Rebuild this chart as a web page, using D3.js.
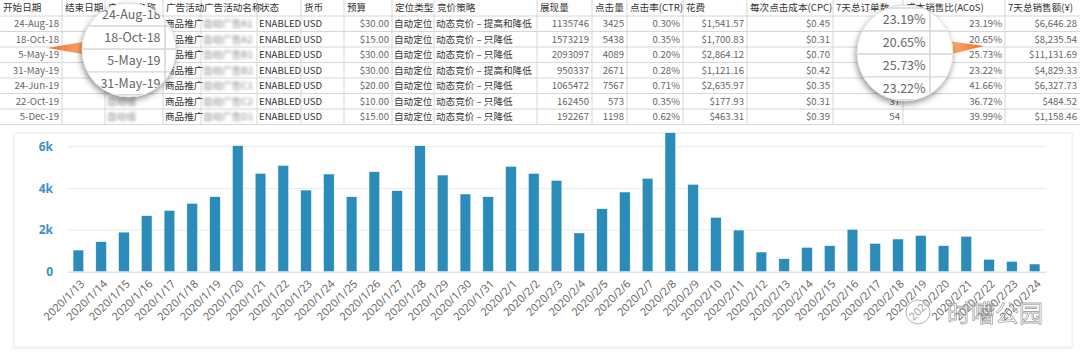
<!DOCTYPE html>
<html>
<head>
<meta charset="utf-8">
<script src="https://cdn.jsdelivr.net/npm/d3@7"></script>
<style>
  body { margin: 0; background: #fff; }
  svg { display: block; font-family: "Noto Sans CJK SC", "Noto Sans", sans-serif; }
</style>
</head>
<body>
<svg id="chart" width="1080" height="360"></svg>
<script>
// ---- table data ----
const headers = ['开始日期', '结束日期', '广告组名称', '广告活动', '广告活动名称', '状态', '货币', '预算', '定位类型', '竞价策略',
  '展现量', '点击量', '点击率(CTR)', '花费', '每次点击成本(CPC)', '7天总订单数', '成本销售比(ACoS)', '7天总销售额(¥)'];
const startDates = ['24-Aug-18', '18-Oct-18', '5-May-19', '31-May-19', '24-Jun-19', '22-Oct-19', '5-Dec-19'];
const endDates = ['', '', '', '', '', '', ''];
const groupNames = ['自动广告组', '自动广告组', '自动广告组', '自动广告组', '自动广告组', '自动组', '自动组'];
const campaignTypes = ['商品推广', '商品推广', '商品推广', '商品推广', '商品推广', '商品推广', '商品推广'];
const campaignNames = ['自动广告A1', '自动广告A2', '自动广告B1', '自动广告B2', '自动广告C1', '自动广告C2', '自动广告D1'];
const states = ['ENABLED', 'ENABLED', 'ENABLED', 'ENABLED', 'ENABLED', 'ENABLED', 'ENABLED'];
const currencies = ['USD', 'USD', 'USD', 'USD', 'USD', 'USD', 'USD'];
const budgets = ['$30.00', '$15.00', '$30.00', '$30.00', '$20.00', '$10.00', '$15.00'];
const targeting = ['自动定位', '自动定位', '自动定位', '自动定位', '自动定位', '自动定位', '自动定位'];
const bidding = ['动态竞价 – 提高和降低', '动态竞价 – 只降低', '动态竞价 – 只降低', '动态竞价 – 提高和降低', '动态竞价 – 只降低', '动态竞价 – 只降低', '动态竞价 – 只降低'];
const impressions = ['1135746', '1573219', '2093097', '950337', '1065472', '162450', '192267'];
const clicks = ['3425', '5438', '4089', '2671', '7567', '573', '1198'];
const ctr = ['0.30%', '0.35%', '0.20%', '0.28%', '0.71%', '0.35%', '0.62%'];
const spend = ['$1,541.57', '$1,700.83', '$2,864.12', '$1,121.16', '$2,635.97', '$177.93', '$463.31'];
const cpc = ['$0.45', '$0.31', '$0.70', '$0.42', '$0.35', '$0.31', '$0.39'];
const orders = ['', '', '', '', '', '37', '54'];
const acos = ['23.19%', '20.65%', '25.73%', '23.22%', '41.66%', '36.72%', '39.99%'];
const sales = ['$6,646.28', '$8,235.54', '$11,131.69', '$4,829.33', '$6,327.73', '$484.52', '$1,158.46'];

// ---- chart data ----
const dates = ['2020/1/13', '2020/1/14', '2020/1/15', '2020/1/16', '2020/1/17', '2020/1/18', '2020/1/19', '2020/1/20',
  '2020/1/21', '2020/1/22', '2020/1/23', '2020/1/24', '2020/1/25', '2020/1/26', '2020/1/27', '2020/1/28', '2020/1/29',
  '2020/1/30', '2020/1/31', '2020/2/1', '2020/2/2', '2020/2/3', '2020/2/4', '2020/2/5', '2020/2/6', '2020/2/7',
  '2020/2/8', '2020/2/9', '2020/2/10', '2020/2/11', '2020/2/12', '2020/2/13', '2020/2/14', '2020/2/15', '2020/2/16',
  '2020/2/17', '2020/2/18', '2020/2/19', '2020/2/20', '2020/2/21', '2020/2/22', '2020/2/23', '2020/2/24'];
const values = [1040, 1440, 1900, 2690, 2940, 3280, 3600, 6050, 4720, 5100, 3920, 4690, 3600, 4800, 3890, 6050, 4640,
  3730, 3600, 5060, 4720, 4385, 1860, 3025, 3825, 4480, 6670, 4195, 2610, 2000, 945, 625, 1170, 1250, 2035, 1360,
  1570, 1745, 1250, 1700, 595, 500, 370];
const yTicks = [0, 2000, 4000, 6000];

// ---- layout ----
const colEdges = [0, 62, 105, 163, 201, 257, 301, 344, 392, 434, 537, 592, 627, 683, 747, 833, 903, 1005, 1080];
const headH = 16, rowH = 15.5, fs = 9.6;
const lensL = { cx: 129, cy: 50, r: 47 };
const lensR = { cx: 905, cy: 53, r: 48 };

const columns = [
  { cells: startDates, align: 'end' }, { cells: endDates, align: 'end' },
  { cells: groupNames, align: 'start', blur: true }, { cells: campaignTypes, align: 'start' },
  { cells: campaignNames, align: 'start', blur: true }, { cells: states, align: 'start' },
  { cells: currencies, align: 'start' }, { cells: budgets, align: 'end' },
  { cells: targeting, align: 'start' }, { cells: bidding, align: 'start' },
  { cells: impressions, align: 'end' }, { cells: clicks, align: 'end' },
  { cells: ctr, align: 'end' }, { cells: spend, align: 'end' }, { cells: cpc, align: 'end' },
  { cells: orders, align: 'end' }, { cells: acos, align: 'end' }, { cells: sales, align: 'end' }
];
columns.forEach((c, i) => { c.head = headers[i]; c.x0 = colEdges[i]; c.x1 = colEdges[i + 1]; c.idx = i; });

const svg = d3.select('#chart');
const defs = svg.append('defs');

defs.append('filter').attr('id', 'blurTxt').append('feGaussianBlur').attr('stdDeviation', 1.5);
const sh = defs.append('filter').attr('id', 'shadow').attr('x', '-30%').attr('y', '-30%').attr('width', '160%').attr('height', '160%');
sh.append('feDropShadow').attr('dx', -1).attr('dy', 3).attr('stdDeviation', 3).attr('flood-color', '#000').attr('flood-opacity', 0.45);
const cardSh = defs.append('filter').attr('id', 'cardShadow').attr('x', '-5%').attr('y', '-5%').attr('width', '110%').attr('height', '110%');
cardSh.append('feDropShadow').attr('dx', 0).attr('dy', 1).attr('stdDeviation', 1.2).attr('flood-color', '#000').attr('flood-opacity', 0.08);
const grad = defs.append('linearGradient').attr('id', 'orange').attr('x1', 0).attr('x2', 1);
grad.append('stop').attr('offset', 0).attr('stop-color', '#fbb27a');
grad.append('stop').attr('offset', 1).attr('stop-color', '#f26b1d');
const grad2 = defs.append('linearGradient').attr('id', 'orange2').attr('x1', 1).attr('x2', 0);
grad2.append('stop').attr('offset', 0).attr('stop-color', '#fbb27a');
grad2.append('stop').attr('offset', 1).attr('stop-color', '#f26b1d');

// opts: showHead, cols (indices to write), rows (indices to write), font size
function drawTable(g, opts) {
  const nRows = startDates.length;
  const size = opts.fs || fs;
  g.append('rect').attr('width', 1080).attr('height', headH + rowH * nRows).attr('fill', '#fff');
  g.selectAll('line.h').data(d3.range(nRows + 1)).join('line')
    .attr('x1', 0).attr('x2', 1080)
    .attr('y1', i => headH + i * rowH).attr('y2', i => headH + i * rowH)
    .attr('stroke', '#d6d6d6').attr('stroke-width', 1);
  g.selectAll('line.v').data(colEdges.slice(1, -1)).join('line')
    .attr('x1', d => d).attr('x2', d => d)
    .attr('y1', 0).attr('y2', headH + nRows * rowH)
    .attr('stroke', '#d6d6d6').attr('stroke-width', 1);

  const cols = opts.cols ? columns.filter(c => opts.cols.includes(c.idx)) : columns;
  const col = g.selectAll('g.col').data(cols).join('g');
  if (opts.showHead) {
    col.append('text')
      .attr('x', d => d.x0 + 3).attr('y', headH / 2 + 3.4)
      .attr('font-size', size).attr('fill', '#333')
      .text(d => d.head);
  }
  col.each(function (c) {
    const cells = c.cells.map((v, i) => ({ v, i }))
      .filter(d => d.v !== '' && (!opts.rows || opts.rows.includes(d.i)));
    d3.select(this).selectAll('text.cell').data(cells).join('text')
      .attr('class', 'cell')
      .attr('x', c.align === 'end' ? c.x1 - 3 : c.x0 + 2)
      .attr('y', d => headH + d.i * rowH + rowH / 2 + size * 0.36)
      .attr('text-anchor', c.align)
      .attr('font-size', size)
      .attr('fill', c.blur ? '#8a8a8a' : (c.align === 'end' ? '#666' : '#333'))
      .attr('filter', c.blur ? 'url(#blurTxt)' : null)
      .text(d => d.v);
  });
  return g;
}

// base table; drop cells fully buried under a lens
const base = drawTable(svg.append('g'), { showHead: true });
base.selectAll('text.cell').each(function () {
  const b = this.getBBox();
  const my = b.y + b.height / 2;
  [lensL, lensR].forEach(L => {
    const buried = [[b.x, my], [b.x + b.width, my]].every(([px, py]) => Math.hypot(px - L.cx, py - L.cy) < L.r);
    if (buried) d3.select(this).remove();
  });
});

// pointers
svg.append('path').attr('d', 'M48,48 L88,41 L88,55 Z').attr('fill', 'url(#orange2)');
svg.append('path').attr('d', 'M984,46 L948,41 L948,55 Z').attr('fill', 'url(#orange)');

function magnifier(L, fx, fy, tx, ty, k, id, colIdx) {
  defs.append('clipPath').attr('id', id).append('circle').attr('cx', L.cx).attr('cy', L.cy).attr('r', L.r);
  svg.append('circle').attr('cx', L.cx).attr('cy', L.cy).attr('r', L.r).attr('fill', '#fff').attr('filter', 'url(#shadow)');
  const g = svg.append('g').attr('clip-path', `url(#${id})`)
    .append('g').attr('transform', `translate(${tx},${ty}) scale(${k}) translate(${-fx},${-fy})`);
  drawTable(g, { showHead: false, cols: [colIdx], rows: [0, 1, 2, 3], fs: fs * 0.88 });
  svg.append('circle').attr('cx', L.cx).attr('cy', L.cy).attr('r', L.r).attr('fill', 'none').attr('stroke', '#e2e2e2');
}
magnifier(lensL, 62, headH + rowH, 165, 26, 1.48, 'magL', 0);
magnifier(lensR, 1005, headH + rowH, 930, 31, 1.48, 'magR', 16);

// ---- chart card ----
svg.append('rect').attr('x', 14).attr('y', 133).attr('width', 1058).attr('height', 214)
  .attr('fill', '#fff').attr('stroke', '#ececec').attr('filter', 'url(#cardShadow)');

const x = d3.scaleBand().domain(dates).range([67, 1046]).paddingInner(0.53).paddingOuter(0.265);
const y = d3.scaleLinear().domain([0, 6000]).range([271.7, 146.7]);

svg.append('g').selectAll('line').data(yTicks.slice(1)).join('line')
  .attr('x1', 67).attr('x2', 1046).attr('y1', d => y(d)).attr('y2', d => y(d))
  .attr('stroke', '#ebebeb');

const yAxis = svg.append('g').attr('transform', 'translate(67,0)')
  .call(d3.axisLeft(y).tickValues(yTicks).tickSize(0).tickPadding(14)
    .tickFormat(d => d === 0 ? '0' : d / 1000 + 'k'));
yAxis.select('.domain').remove();
yAxis.selectAll('text').attr('font-family', '"Open Sans", sans-serif').attr('font-size', 12)
  .attr('font-weight', 'bold').attr('fill', '#3d90c2');

svg.append('g').selectAll('rect').data(values).join('rect')
  .attr('x', (d, i) => x(dates[i])).attr('width', x.bandwidth())
  .attr('y', d => y(d)).attr('height', d => y(0) - y(d))
  .attr('fill', '#2b8cba').attr('stroke', '#fff').attr('stroke-width', 0.5);

const xAxis = svg.append('g').attr('transform', `translate(0,${y(0)})`)
  .call(d3.axisBottom(x).tickSize(0).tickPadding(0));
xAxis.select('.domain').attr('stroke', '#c9d9e8');
xAxis.selectAll('text')
  .attr('font-family', '"Open Sans", sans-serif').attr('font-size', 11).attr('fill', '#606060')
  .attr('text-anchor', 'end')
  .attr('transform', 'translate(4,10) rotate(-45)')
  .attr('dy', '0.35em').attr('y', 0);

// watermark
const wm = svg.append('g').attr('opacity', 0.75);
wm.append('circle').attr('cx', 918).attr('cy', 312).attr('r', 12)
  .attr('fill', 'rgba(255,255,255,0.5)').attr('stroke', '#999').attr('stroke-width', 1);
wm.append('text').attr('x', 947).attr('y', 322).attr('font-size', 24)
  .attr('fill', 'rgba(255,255,255,0.5)').attr('stroke', '#888').attr('stroke-width', 0.8)
  .text('时嘈公园');
</script>
</body>
</html>
